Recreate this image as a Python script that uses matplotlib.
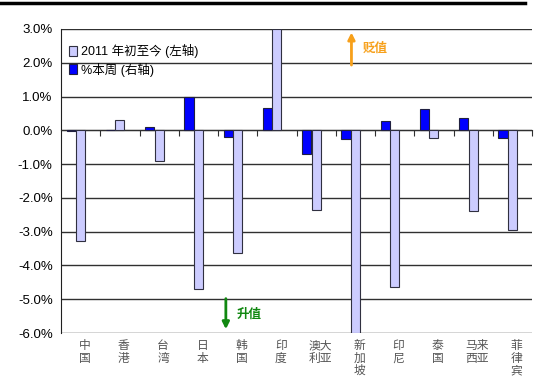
import matplotlib
matplotlib.use("Agg")
import matplotlib.pyplot as plt
import numpy as np
from matplotlib.lines import Line2D

plt.rcParams['font.family'] = ['Liberation Sans', 'Noto Sans CJK SC', 'DejaVu Sans']

categories = ["中\n国", "香\n港", "台\n湾", "日\n本", "韩\n国", "印\n度",
              "澳大\n利亚", "新\n加\n坡", "印\n尼", "泰\n国", "马来\n西亚", "菲\n律\n宾"]
ytd_2011 = [-3.28, 0.30, -0.91, -4.70, -3.63, 3.00, -2.37, -6.00, -4.65, -0.22, -2.40, -2.94]
this_week = [-0.01, 0.0, 0.11, 1.00, -0.21, 0.67, -0.71, -0.27, 0.27, 0.62, 0.36, -0.24]
yticks = [3, 2, 1, 0, -1, -2, -3, -4, -5, -6]

fig = plt.figure(figsize=(5.34, 3.80), dpi=100)
ax = fig.add_axes([61/534, 1-333/380, 471/534, 304/380])

n = len(categories)
x = np.arange(n) + 0.5
w = 0.235

for v in yticks:
    ax.axhline(v, color='#303030', lw=1.0, zorder=1)

ax.bar(x - 0.24, this_week, width=w, color='#0000FF', edgecolor='#202040', lw=0.8,
       label='%本周 (右轴)', zorder=3)
ax.bar(x, ytd_2011, width=w, color='#CCCCFF', edgecolor='#303040', lw=0.8,
       label='2011 年初至今 (左轴)', zorder=3)

ax.set_xlim(0, n)
ax.set_ylim(-6, 3)
ax.set_yticks(yticks)
ax.set_yticklabels([f"{v:.1f}%" for v in yticks], fontsize=9.5)
ax.tick_params(axis='y', length=0, pad=6)

for s in ['top', 'right']:
    ax.spines[s].set_visible(False)
ax.spines['left'].set_color('#202020')
ax.spines['bottom'].set_position(('data', 0))
ax.spines['bottom'].set_color('#303030')
ax.set_xticks(np.arange(1, n + 1))
ax.set_xticklabels([])
ax.tick_params(axis='x', direction='out', length=4, color='#303030')

for xi, lab in zip(x, categories):
    ax.text(xi + 0.1, -0.02, lab, transform=ax.get_xaxis_transform(), ha='center', va='top',
            fontsize=8.5, color='#555555', family=['Noto Sans CJK SC'], linespacing=0.95)

h, l = ax.get_legend_handles_labels()
leg = ax.legend(h[::-1], l[::-1], loc='upper left', bbox_to_anchor=(0.0, 0.975), frameon=False,
                handlelength=0.7, handleheight=0.9, handletextpad=0.3,
                labelspacing=0.35, borderaxespad=0.2,
                prop={'family': ['Liberation Sans', 'Noto Sans CJK SC'], 'size': 9})

# direction annotations
ax.annotate('', xy=(7.4, 2.98), xytext=(7.4, 1.85),
            arrowprops=dict(arrowstyle='-|>', color='#F7A01A', lw=2, mutation_scale=10))
ax.text(7.68, 2.42, '贬值', color='#F7A01A', fontsize=9, fontweight='bold',
        family=['Noto Sans CJK SC'], va='center')
ax.annotate('', xy=(4.2, -5.97), xytext=(4.2, -4.9),
            arrowprops=dict(arrowstyle='-|>', color='#118811', lw=2, mutation_scale=10))
ax.text(4.48, -5.45, '升值', color='#118811', fontsize=9, fontweight='bold',
        family=['Noto Sans CJK SC'], va='center')

fig.add_artist(Line2D([0, 525/534], [1-3/380, 1-3/380], color='black', lw=2.5,
                      transform=fig.transFigure))

fig.savefig('out.png', dpi=100)
